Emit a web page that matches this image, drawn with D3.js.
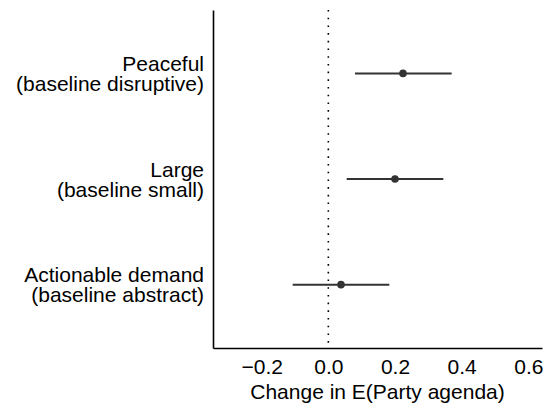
<!DOCTYPE html>
<html>
<head>
<meta charset="utf-8">
<script src="https://cdn.jsdelivr.net/npm/d3@7"></script>
<style>
  body { margin: 0; background: #fff; }
  svg { display: block; font-family: "Liberation Sans", Arial, sans-serif; }
</style>
</head>
<body>
<div id="chart"></div>
<script>
const categories = ["Peaceful", "Large", "Actionable demand"];
const baselines = ["(baseline disruptive)", "(baseline small)", "(baseline abstract)"];
const estimates = [0.224, 0.2, 0.038];
const lower = [0.08, 0.055, -0.107];
const upper = [0.37, 0.345, 0.183];
const xTicks = [-0.2, 0, 0.2, 0.4, 0.6];

const width = 550, height = 410;
const margin = { left: 213, right: 8, top: 10, bottom: 62 };
const fontSize = 21;

const svg = d3.select("#chart").append("svg")
  .attr("width", width)
  .attr("height", height);

const x = d3.scaleLinear()
  .domain([-0.346, 0.641])
  .range([margin.left, width - margin.right]);

const y = d3.scalePoint()
  .domain(categories)
  .range([margin.top, height - margin.bottom])
  .padding(0.6);

// zero reference line
svg.append("line")
  .attr("x1", x(0)).attr("x2", x(0))
  .attr("y1", margin.top).attr("y2", height - margin.bottom)
  .attr("stroke", "#000")
  .attr("stroke-width", 1.6)
  .attr("stroke-dasharray", "1.6 6.1");

// x axis
const xAxis = svg.append("g")
  .attr("transform", `translate(0,${height - margin.bottom})`)
  .call(d3.axisBottom(x).tickValues(xTicks).tickFormat(d3.format(".1f")).tickSize(0).tickPadding(11));
xAxis.select(".domain").attr("stroke", "#000").attr("stroke-width", 1.6);
xAxis.selectAll("text").attr("font-size", fontSize).attr("fill", "#000").attr("font-family", null);

// y axis
const yAxis = svg.append("g")
  .attr("transform", `translate(${margin.left},0)`)
  .call(d3.axisLeft(y).tickSize(0).tickFormat(""));
yAxis.select(".domain").attr("stroke", "#000").attr("stroke-width", 1.6);

// category labels (two lines)
const lab = svg.append("g").selectAll("text")
  .data(categories)
  .join("text")
  .attr("text-anchor", "end")
  .attr("font-size", fontSize)
  .attr("fill", "#000");
lab.append("tspan")
  .attr("x", margin.left - 9)
  .attr("y", d => y(d) - 2.5)
  .text(d => d);
lab.append("tspan")
  .attr("x", margin.left - 9)
  .attr("y", d => y(d) + 17.5)
  .text((d, i) => baselines[i]);

// confidence intervals
svg.append("g").selectAll("line")
  .data(categories)
  .join("line")
  .attr("x1", (d, i) => x(lower[i]))
  .attr("x2", (d, i) => x(upper[i]))
  .attr("y1", d => y(d))
  .attr("y2", d => y(d))
  .attr("stroke", "#333")
  .attr("stroke-width", 2);

// point estimates
svg.append("g").selectAll("circle")
  .data(categories)
  .join("circle")
  .attr("cx", (d, i) => x(estimates[i]))
  .attr("cy", d => y(d))
  .attr("r", 3.8)
  .attr("fill", "#333");

// axis title
svg.append("text")
  .attr("x", (margin.left + width - margin.right) / 2)
  .attr("y", 398.5)
  .attr("text-anchor", "middle")
  .attr("font-size", fontSize)
  .attr("fill", "#000")
  .text("Change in E(Party agenda)");
</script>
</body>
</html>
